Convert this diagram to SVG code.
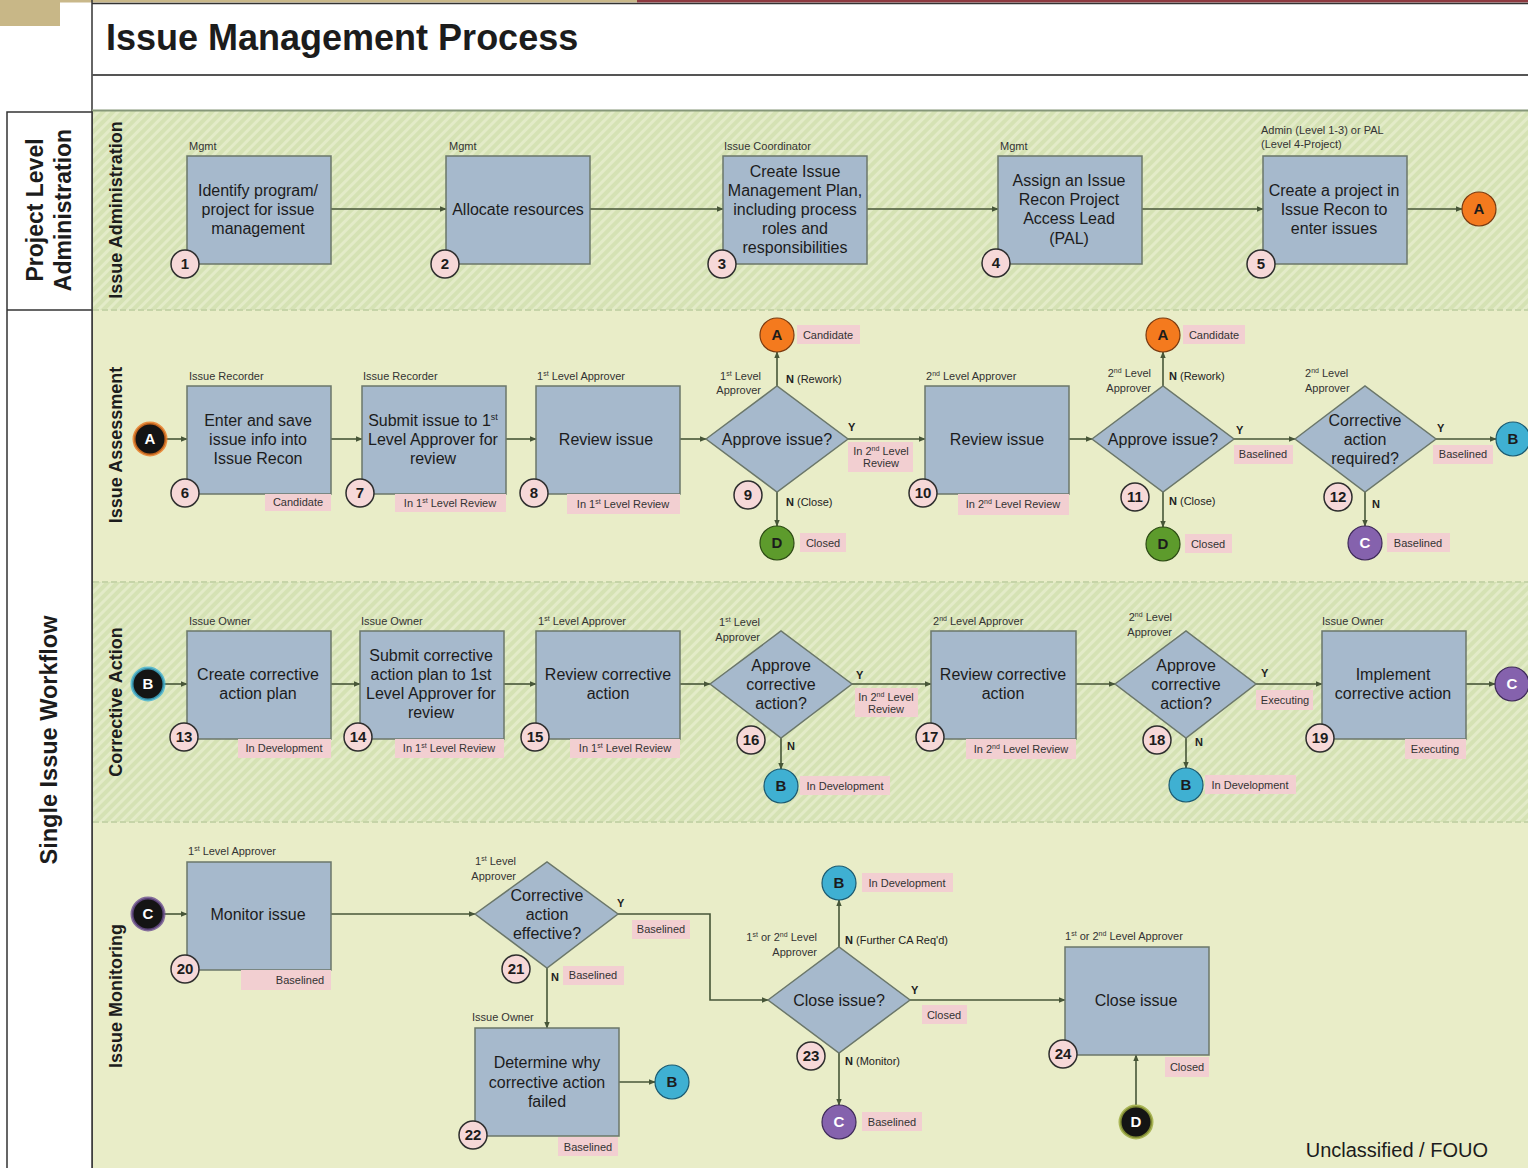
<svg xmlns="http://www.w3.org/2000/svg" width="1528" height="1168" viewBox="0 0 1528 1168">
<defs>
<pattern id="hatch" patternUnits="userSpaceOnUse" width="7" height="7" patternTransform="rotate(45)">
<rect width="7" height="7" fill="#d5e2b4"/>
<rect width="3" height="7" fill="#e3ebc8"/>
</pattern>
<marker id="arr" viewBox="0 0 10 10" refX="9" refY="5" markerWidth="7" markerHeight="7" orient="auto" markerUnits="userSpaceOnUse">
<path d="M0,1 L10,5 L0,9 z" fill="#475638"/>
</marker>
<style>
text{font-family:"Liberation Sans",Arial,sans-serif;fill:#1c1c1c}
.box{fill:#a6b9cc;stroke:#6b776a;stroke-width:1.5}
.t{font-size:16px;text-anchor:middle}
.role{font-size:11px;fill:#333}
.st rect{fill:#f2cfd1}
.st text{font-size:11px;text-anchor:middle;fill:#333;font-weight:normal}
.num circle{fill:#f6d8d8;stroke:#2e2e2e;stroke-width:1.5}
.num text{font-size:15px;font-weight:bold;text-anchor:middle}
.br{font-size:11px;fill:#222}
.b{font-weight:bold}
.conn path{stroke:#475638;stroke-width:1.6;fill:none;marker-end:url(#arr)}
.cc > text{font-size:15px;font-weight:bold;text-anchor:middle}
.lane{font-size:18px;font-weight:bold;text-anchor:middle}
.ca{fill:#f47a1e;stroke:#7a3a10;stroke-width:1.2}
.cb{fill:#3fb0d2;stroke:#1c5a70;stroke-width:1.2}
.cc1{fill:#8562ad;stroke:#3e2a58;stroke-width:1.2}
.cd{fill:#5d9b2c;stroke:#2c4a14;stroke-width:1.2}
</style>
</defs>

<!-- frame -->
<g id="frame">
<rect x="0" y="0" width="1528" height="1168" fill="#ffffff"/>
<rect x="0" y="0" width="637" height="2.5" fill="#c9b88a"/>
<rect x="0" y="0" width="60" height="26" fill="#c8b787"/>
<rect x="637" y="0" width="891" height="2.5" fill="#8e3a40"/>
<line x1="92" y1="3.5" x2="1528" y2="3.5" stroke="#333" stroke-width="1.5"/>
<line x1="92" y1="0" x2="92" y2="1168" stroke="#333" stroke-width="1.5"/>
<line x1="92" y1="75" x2="1528" y2="75" stroke="#555" stroke-width="2"/>
<text x="106" y="50" font-size="36" font-weight="bold" fill="#111">Issue Management Process</text>
<!-- lanes -->
<rect x="93" y="111" width="1435" height="199" fill="url(#hatch)"/>
<rect x="93" y="310" width="1435" height="272" fill="#e9edc8"/>
<rect x="93" y="582" width="1435" height="240" fill="url(#hatch)"/>
<rect x="93" y="822" width="1435" height="346" fill="#e9edc8"/>
<line x1="92" y1="110.5" x2="1528" y2="110.5" stroke="#869779" stroke-width="2"/>
<line x1="93" y1="310" x2="1528" y2="310" stroke="#c6d4a8" stroke-width="2" stroke-dasharray="6 3"/>
<line x1="93" y1="582" x2="1528" y2="582" stroke="#c6d4a8" stroke-width="2" stroke-dasharray="6 3"/>
<line x1="93" y1="822" x2="1528" y2="822" stroke="#c6d4a8" stroke-width="2" stroke-dasharray="6 3"/>
<!-- left column -->
<rect x="7" y="112" width="85" height="1060" fill="#ffffff" stroke="#333" stroke-width="1.5"/>
<line x1="7" y1="310" x2="92" y2="310" stroke="#333" stroke-width="1.5"/>
<text transform="translate(43,210) rotate(-90)" font-size="23" font-weight="bold" text-anchor="middle" fill="#111">Project Level</text>
<text transform="translate(71,210) rotate(-90)" font-size="23" font-weight="bold" text-anchor="middle" fill="#111">Administration</text>
<text transform="translate(57,740) rotate(-90)" font-size="23.5" font-weight="bold" text-anchor="middle" fill="#111">Single Issue Workflow</text>
<text class="lane" transform="translate(122,210) rotate(-90)">Issue Administration</text>
<text class="lane" transform="translate(122,445) rotate(-90)">Issue Assessment</text>
<text class="lane" transform="translate(122,702) rotate(-90)">Corrective Action</text>
<text class="lane" transform="translate(122,996) rotate(-90)">Issue Monitoring</text>
<text x="1488" y="1157" font-size="20" text-anchor="end" fill="#222">Unclassified / FOUO</text>
</g>

<!-- connectors -->
<g id="connectors" class="conn">
<path d="M331,209 H446"/>
<path d="M590,209 H723"/>
<path d="M867,209 H998"/>
<path d="M1142,209 H1263"/>
<path d="M1407,209 H1462"/>
<path d="M166,439 H187"/>
<path d="M331,439 H362"/>
<path d="M506,439 H536"/>
<path d="M680,439 H706"/>
<path d="M777,386 V352"/>
<path d="M848,439 H925"/>
<path d="M777,492 V526"/>
<path d="M1069,439 H1092"/>
<path d="M1163,386 V352"/>
<path d="M1234,439 H1295"/>
<path d="M1163,492 V527"/>
<path d="M1436,439 H1496"/>
<path d="M1365,492 V526"/>
<path d="M164,684 H187"/>
<path d="M331,684 H360"/>
<path d="M504,684 H536"/>
<path d="M680,684 H710"/>
<path d="M852,684 H931"/>
<path d="M781,738 V769"/>
<path d="M1076,684 H1115"/>
<path d="M1256,684 H1322"/>
<path d="M1186,738 V768"/>
<path d="M1466,684 H1495"/>
<path d="M164,914 H187"/>
<path d="M331,914 H475"/>
<path d="M618,914 H710 V1000 H768"/>
<path d="M547,968 V1028"/>
<path d="M619,1082 H655"/>
<path d="M839,947 V900"/>
<path d="M910,1000 H1065"/>
<path d="M839,1053 V1105"/>
<path d="M1136,1105 V1055"/>
</g>

<!-- Row 1 -->
<g id="n1">
<rect class="box" x="187" y="156" width="144" height="108"/>
<text class="role" x="189" y="150">Mgmt</text>
<text class="t" x="258" y="196">Identify program/</text>
<text class="t" x="258" y="215">project for issue</text>
<text class="t" x="258" y="234">management</text>
<g class="num"><circle cx="185" cy="264" r="14"/><text x="185" y="269">1</text></g>
</g>
<g id="n2">
<rect class="box" x="446" y="156" width="144" height="108"/>
<text class="role" x="449" y="150">Mgmt</text>
<text class="t" x="518" y="215">Allocate resources</text>
<g class="num"><circle cx="445" cy="264" r="14"/><text x="445" y="269">2</text></g>
</g>
<g id="n3">
<rect class="box" x="723" y="156" width="144" height="108"/>
<text class="role" x="724" y="150">Issue Coordinator</text>
<text class="t" x="795" y="177">Create Issue</text>
<text class="t" x="795" y="196">Management Plan,</text>
<text class="t" x="795" y="215">including process</text>
<text class="t" x="795" y="234">roles and</text>
<text class="t" x="795" y="253">responsibilities</text>
<g class="num"><circle cx="722" cy="264" r="14"/><text x="722" y="269">3</text></g>
</g>
<g id="n4">
<rect class="box" x="998" y="156" width="144" height="108"/>
<text class="role" x="1000" y="150">Mgmt</text>
<text class="t" x="1069" y="186">Assign an Issue</text>
<text class="t" x="1069" y="205">Recon Project</text>
<text class="t" x="1069" y="224">Access Lead</text>
<text class="t" x="1069" y="244">(PAL)</text>
<g class="num"><circle cx="996" cy="263" r="14"/><text x="996" y="268">4</text></g>
</g>
<g id="n5">
<rect class="box" x="1263" y="156" width="144" height="108"/>
<text class="role" x="1261" y="134">Admin (Level 1-3) or PAL</text>
<text class="role" x="1261" y="148">(Level 4-Project)</text>
<text class="t" x="1334" y="196">Create a project in</text>
<text class="t" x="1334" y="215">Issue Recon to</text>
<text class="t" x="1334" y="234">enter issues</text>
<g class="num"><circle cx="1261" cy="264" r="14"/><text x="1261" y="269">5</text></g>
</g>
<g id="cA1" class="cc"><circle class="ca" cx="1479" cy="209" r="17"/><text x="1479" y="214">A</text></g>

<!-- Row 2 -->
<g id="sA2" class="cc"><circle cx="150" cy="439" r="16" fill="#141414" stroke="#e8761e" stroke-width="3" stroke-opacity="0.8"/><text x="150" y="444" style="fill:#fff">A</text></g>
<g id="n6">
<rect class="box" x="187" y="386" width="144" height="108"/>
<text class="role" x="189" y="380">Issue Recorder</text>
<text class="t" x="258" y="426">Enter and save</text>
<text class="t" x="258" y="445">issue info into</text>
<text class="t" x="258" y="464">Issue Recon</text>
<g class="st"><rect x="265" y="494" width="66" height="17"/><text x="298" y="506">Candidate</text></g>
<g class="num"><circle cx="185" cy="493" r="14"/><text x="185" y="498">6</text></g>
</g>
<g id="n7">
<rect class="box" x="362" y="386" width="144" height="108"/>
<text class="role" x="363" y="380">Issue Recorder</text>
<text class="t" x="433" y="426">Submit issue to 1<tspan font-size="9" dy="-6">st</tspan></text>
<text class="t" x="433" y="445">Level Approver for</text>
<text class="t" x="433" y="464">review</text>
<g class="st"><rect x="395" y="494" width="111" height="18"/><text x="450" y="507">In 1<tspan font-size="7" dy="-4">st</tspan><tspan dy="4"> Level Review</tspan></text></g>
<g class="num"><circle cx="360" cy="493" r="14"/><text x="360" y="498">7</text></g>
</g>
<g id="n8">
<rect class="box" x="536" y="386" width="144" height="108"/>
<text class="role" x="537" y="380">1<tspan font-size="7" dy="-4">st</tspan><tspan dy="4"> Level Approver</tspan></text>
<text class="t" x="606" y="445">Review issue</text>
<g class="st"><rect x="567" y="494" width="113" height="20"/><text x="623" y="508">In 1<tspan font-size="7" dy="-4">st</tspan><tspan dy="4"> Level Review</tspan></text></g>
<g class="num"><circle cx="534" cy="493" r="14"/><text x="534" y="498">8</text></g>
</g>
<g id="n9">
<polygon class="box" points="706,439 777,386 848,439 777,492"/>
<text class="t" x="777" y="445">Approve issue?</text>
<text class="role" x="761" y="380" text-anchor="end">1<tspan font-size="7" dy="-4">st</tspan><tspan dy="4"> Level</tspan></text>
<text class="role" x="761" y="394" text-anchor="end">Approver</text>
<text class="br" x="786" y="383"><tspan class="b">N</tspan> (Rework)</text>
<text class="br b" x="848" y="431">Y</text>
<text class="br" x="786" y="506"><tspan class="b">N</tspan> (Close)</text>
<g class="st"><rect x="848" y="442" width="65" height="30"/><text x="881" y="455">In 2<tspan font-size="7" dy="-4">nd</tspan><tspan dy="4"> Level</tspan></text><text x="881" y="467">Review</text></g>
<g class="num"><circle cx="748" cy="495" r="14"/><text x="748" y="500">9</text></g>
</g>
<g id="cA9" class="cc"><circle class="ca" cx="777" cy="335" r="17"/><text x="777" y="340">A</text><g class="st"><rect x="797" y="325" width="63" height="19"/><text x="828" y="339">Candidate</text></g></g>
<g id="cD9" class="cc"><circle class="cd" cx="777" cy="543" r="17"/><text x="777" y="548">D</text><g class="st"><rect x="800" y="533" width="46" height="19"/><text x="823" y="547">Closed</text></g></g>
<g id="n10">
<rect class="box" x="925" y="386" width="144" height="108"/>
<text class="role" x="926" y="380">2<tspan font-size="7" dy="-4">nd</tspan><tspan dy="4"> Level Approver</tspan></text>
<text class="t" x="997" y="445">Review issue</text>
<g class="st"><rect x="958" y="494" width="111" height="21"/><text x="1013" y="508">In 2<tspan font-size="7" dy="-4">nd</tspan><tspan dy="4"> Level Review</tspan></text></g>
<g class="num"><circle cx="923" cy="493" r="14"/><text x="923" y="498">10</text></g>
</g>
<g id="n11">
<polygon class="box" points="1092,439 1163,386 1234,439 1163,492"/>
<text class="t" x="1163" y="445">Approve issue?</text>
<text class="role" x="1151" y="377" text-anchor="end">2<tspan font-size="7" dy="-4">nd</tspan><tspan dy="4"> Level</tspan></text>
<text class="role" x="1151" y="392" text-anchor="end">Approver</text>
<text class="br" x="1169" y="380"><tspan class="b">N</tspan> (Rework)</text>
<text class="br b" x="1236" y="434">Y</text>
<text class="br" x="1169" y="505"><tspan class="b">N</tspan> (Close)</text>
<g class="st"><rect x="1234" y="445" width="59" height="19"/><text x="1263" y="458">Baselined</text></g>
<g class="num"><circle cx="1135" cy="497" r="14"/><text x="1135" y="502">11</text></g>
</g>
<g id="cA11" class="cc"><circle class="ca" cx="1163" cy="335" r="17"/><text x="1163" y="340">A</text><g class="st"><rect x="1183" y="325" width="62" height="19"/><text x="1214" y="339">Candidate</text></g></g>
<g id="cD11" class="cc"><circle class="cd" cx="1163" cy="544" r="17"/><text x="1163" y="549">D</text><g class="st"><rect x="1185" y="534" width="47" height="19"/><text x="1208" y="548">Closed</text></g></g>
<g id="n12">
<polygon class="box" points="1295,439 1365,386 1436,439 1365,492"/>
<text class="t" x="1365" y="426">Corrective</text>
<text class="t" x="1365" y="445">action</text>
<text class="t" x="1365" y="464">required?</text>
<text class="role" x="1305" y="377">2<tspan font-size="7" dy="-4">nd</tspan><tspan dy="4"> Level</tspan></text>
<text class="role" x="1305" y="392">Approver</text>
<text class="br b" x="1437" y="432">Y</text>
<text class="br b" x="1372" y="508">N</text>
<g class="st"><rect x="1433" y="445" width="60" height="19"/><text x="1463" y="458">Baselined</text></g>
<g class="num"><circle cx="1338" cy="497" r="14"/><text x="1338" y="502">12</text></g>
</g>
<g id="cC12" class="cc"><circle class="cc1" cx="1365" cy="543" r="17"/><text x="1365" y="548" style="fill:#fff">C</text><g class="st"><rect x="1387" y="533" width="63" height="19"/><text x="1418" y="547">Baselined</text></g></g>
<g id="cB12" class="cc"><circle class="cb" cx="1513" cy="439" r="17"/><text x="1513" y="444">B</text></g>

<!-- Row 3 -->
<g id="sB3" class="cc"><circle cx="148" cy="684" r="16" fill="#141414" stroke="#3fb0d2" stroke-width="3" stroke-opacity="0.8"/><text x="148" y="689" style="fill:#fff">B</text></g>
<g id="n13">
<rect class="box" x="187" y="631" width="144" height="108"/>
<text class="role" x="189" y="625">Issue Owner</text>
<text class="t" x="258" y="680">Create corrective</text>
<text class="t" x="258" y="699">action plan</text>
<g class="st"><rect x="238" y="739" width="93" height="19"/><text x="284" y="752">In Development</text></g>
<g class="num"><circle cx="184" cy="737" r="14"/><text x="184" y="742">13</text></g>
</g>
<g id="n14">
<rect class="box" x="360" y="631" width="144" height="108"/>
<text class="role" x="361" y="625">Issue Owner</text>
<text class="t" x="431" y="661">Submit corrective</text>
<text class="t" x="431" y="680">action plan to 1st</text>
<text class="t" x="431" y="699">Level Approver for</text>
<text class="t" x="431" y="718">review</text>
<g class="st"><rect x="395" y="739" width="109" height="19"/><text x="449" y="752">In 1<tspan font-size="7" dy="-4">st</tspan><tspan dy="4"> Level Review</tspan></text></g>
<g class="num"><circle cx="358" cy="737" r="14"/><text x="358" y="742">14</text></g>
</g>
<g id="n15">
<rect class="box" x="536" y="631" width="144" height="108"/>
<text class="role" x="538" y="625">1<tspan font-size="7" dy="-4">st</tspan><tspan dy="4"> Level Approver</tspan></text>
<text class="t" x="608" y="680">Review corrective</text>
<text class="t" x="608" y="699">action</text>
<g class="st"><rect x="570" y="739" width="110" height="19"/><text x="625" y="752">In 1<tspan font-size="7" dy="-4">st</tspan><tspan dy="4"> Level Review</tspan></text></g>
<g class="num"><circle cx="535" cy="737" r="14"/><text x="535" y="742">15</text></g>
</g>
<g id="n16">
<polygon class="box" points="710,684 781,631 852,684 781,738"/>
<text class="t" x="781" y="671">Approve</text>
<text class="t" x="781" y="690">corrective</text>
<text class="t" x="781" y="709">action?</text>
<text class="role" x="760" y="626" text-anchor="end">1<tspan font-size="7" dy="-4">st</tspan><tspan dy="4"> Level</tspan></text>
<text class="role" x="760" y="641" text-anchor="end">Approver</text>
<text class="br b" x="856" y="679">Y</text>
<text class="br b" x="787" y="750">N</text>
<g class="st"><rect x="855" y="688" width="63" height="29"/><text x="886" y="701">In 2<tspan font-size="7" dy="-4">nd</tspan><tspan dy="4"> Level</tspan></text><text x="886" y="713">Review</text></g>
<g class="num"><circle cx="751" cy="740" r="14"/><text x="751" y="745">16</text></g>
</g>
<g id="cB16" class="cc"><circle class="cb" cx="781" cy="786" r="17"/><text x="781" y="791">B</text><g class="st"><rect x="800" y="776" width="90" height="19"/><text x="845" y="790">In Development</text></g></g>
<g id="n17">
<rect class="box" x="931" y="631" width="145" height="108"/>
<text class="role" x="933" y="625">2<tspan font-size="7" dy="-4">nd</tspan><tspan dy="4"> Level Approver</tspan></text>
<text class="t" x="1003" y="680">Review corrective</text>
<text class="t" x="1003" y="699">action</text>
<g class="st"><rect x="966" y="739" width="110" height="20"/><text x="1021" y="753">In 2<tspan font-size="7" dy="-4">nd</tspan><tspan dy="4"> Level Review</tspan></text></g>
<g class="num"><circle cx="930" cy="737" r="14"/><text x="930" y="742">17</text></g>
</g>
<g id="n18">
<polygon class="box" points="1115,684 1186,631 1256,684 1186,738"/>
<text class="t" x="1186" y="671">Approve</text>
<text class="t" x="1186" y="690">corrective</text>
<text class="t" x="1186" y="709">action?</text>
<text class="role" x="1172" y="621" text-anchor="end">2<tspan font-size="7" dy="-4">nd</tspan><tspan dy="4"> Level</tspan></text>
<text class="role" x="1172" y="636" text-anchor="end">Approver</text>
<text class="br b" x="1261" y="677">Y</text>
<text class="br b" x="1195" y="746">N</text>
<g class="st"><rect x="1256" y="690" width="57" height="20"/><text x="1285" y="704">Executing</text></g>
<g class="num"><circle cx="1157" cy="740" r="14"/><text x="1157" y="745">18</text></g>
</g>
<g id="cB18" class="cc"><circle class="cb" cx="1186" cy="785" r="17"/><text x="1186" y="790">B</text><g class="st"><rect x="1205" y="775" width="91" height="19"/><text x="1250" y="789">In Development</text></g></g>
<g id="n19">
<rect class="box" x="1322" y="631" width="144" height="108"/>
<text class="role" x="1322" y="625">Issue Owner</text>
<text class="t" x="1393" y="680">Implement</text>
<text class="t" x="1393" y="699">corrective action</text>
<g class="st"><rect x="1405" y="739" width="61" height="20"/><text x="1435" y="753">Executing</text></g>
<g class="num"><circle cx="1320" cy="738" r="14"/><text x="1320" y="743">19</text></g>
</g>
<g id="cC19" class="cc"><circle class="cc1" cx="1512" cy="684" r="17"/><text x="1512" y="689" style="fill:#fff">C</text></g>

<!-- Row 4 -->
<g id="sC4" class="cc"><circle cx="148" cy="914" r="16" fill="#141414" stroke="#6a4e90" stroke-width="3" stroke-opacity="0.8"/><text x="148" y="919" style="fill:#fff">C</text></g>
<g id="n20">
<rect class="box" x="187" y="862" width="144" height="108"/>
<text class="role" x="188" y="855">1<tspan font-size="7" dy="-4">st</tspan><tspan dy="4"> Level Approver</tspan></text>
<text class="t" x="258" y="920">Monitor issue</text>
<g class="st"><rect x="241" y="970" width="90" height="20"/><text x="300" y="984">Baselined</text></g>
<g class="num"><circle cx="185" cy="969" r="14"/><text x="185" y="974">20</text></g>
</g>
<g id="n21">
<polygon class="box" points="475,914 547,862 618,914 547,968"/>
<text class="t" x="547" y="901">Corrective</text>
<text class="t" x="547" y="920">action</text>
<text class="t" x="547" y="939">effective?</text>
<text class="role" x="516" y="865" text-anchor="end">1<tspan font-size="7" dy="-4">st</tspan><tspan dy="4"> Level</tspan></text>
<text class="role" x="516" y="880" text-anchor="end">Approver</text>
<text class="br b" x="617" y="907">Y</text>
<text class="br b" x="551" y="981">N</text>
<g class="st"><rect x="632" y="920" width="58" height="19"/><text x="661" y="933">Baselined</text></g>
<g class="st"><rect x="563" y="966" width="61" height="19"/><text x="593" y="979">Baselined</text></g>
<g class="num"><circle cx="516" cy="969" r="14"/><text x="516" y="974">21</text></g>
</g>
<g id="n22">
<rect class="box" x="475" y="1028" width="144" height="108"/>
<text class="role" x="472" y="1021">Issue Owner</text>
<text class="t" x="547" y="1068">Determine why</text>
<text class="t" x="547" y="1088">corrective action</text>
<text class="t" x="547" y="1107">failed</text>
<g class="st"><rect x="558" y="1137" width="60" height="19"/><text x="588" y="1151">Baselined</text></g>
<g class="num"><circle cx="473" cy="1135" r="14"/><text x="473" y="1140">22</text></g>
</g>
<g id="cB22" class="cc"><circle class="cb" cx="672" cy="1082" r="17"/><text x="672" y="1087">B</text></g>
<g id="n23">
<polygon class="box" points="768,1000 839,947 910,1000 839,1053"/>
<text class="t" x="839" y="1006">Close issue?</text>
<text class="role" x="817" y="941" text-anchor="end">1<tspan font-size="7" dy="-4">st</tspan><tspan dy="4"> or 2</tspan><tspan font-size="7" dy="-4">nd</tspan><tspan dy="4"> Level</tspan></text>
<text class="role" x="817" y="956" text-anchor="end">Approver</text>
<text class="br" x="845" y="944"><tspan class="b">N</tspan> (Further CA Req'd)</text>
<text class="br b" x="911" y="994">Y</text>
<text class="br" x="845" y="1065"><tspan class="b">N</tspan> (Monitor)</text>
<g class="st"><rect x="922" y="1005" width="45" height="19"/><text x="944" y="1019">Closed</text></g>
<g class="num"><circle cx="811" cy="1056" r="14"/><text x="811" y="1061">23</text></g>
</g>
<g id="cB23" class="cc"><circle class="cb" cx="839" cy="883" r="17"/><text x="839" y="888">B</text><g class="st"><rect x="862" y="873" width="91" height="19"/><text x="907" y="887">In Development</text></g></g>
<g id="cC23" class="cc"><circle class="cc1" cx="839" cy="1122" r="17"/><text x="839" y="1127" style="fill:#fff">C</text><g class="st"><rect x="862" y="1112" width="60" height="19"/><text x="892" y="1126">Baselined</text></g></g>
<g id="n24">
<rect class="box" x="1065" y="947" width="144" height="108"/>
<text class="role" x="1065" y="940">1<tspan font-size="7" dy="-4">st</tspan><tspan dy="4"> or 2</tspan><tspan font-size="7" dy="-4">nd</tspan><tspan dy="4"> Level Approver</tspan></text>
<text class="t" x="1136" y="1006">Close issue</text>
<g class="st"><rect x="1165" y="1057" width="44" height="20"/><text x="1187" y="1071">Closed</text></g>
<g class="num"><circle cx="1063" cy="1054" r="14"/><text x="1063" y="1059">24</text></g>
</g>
<g id="sD24" class="cc"><circle cx="1136" cy="1122" r="16" fill="#141414" stroke="#9aa83a" stroke-width="3" stroke-opacity="0.8"/><text x="1136" y="1127" style="fill:#fff">D</text></g>
</svg>
